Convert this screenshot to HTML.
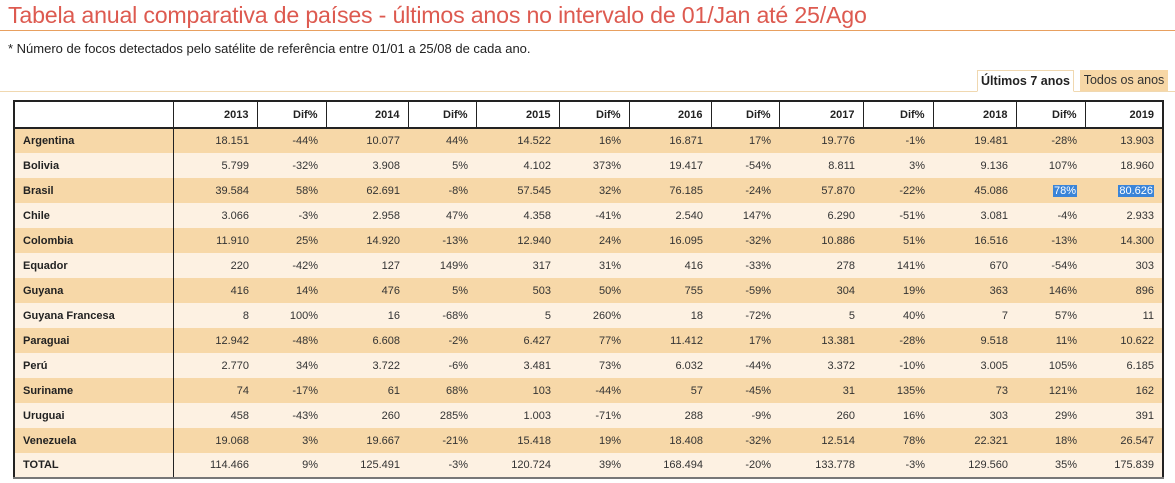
<!DOCTYPE html>
<html><head><meta charset="utf-8">
<style>
body{margin:0;width:1175px;height:483px;background:#fff;font-family:"Liberation Sans",sans-serif;position:relative;overflow:hidden}
#title{position:absolute;left:8px;top:2px;font-size:23.2px;color:#dd5a50;white-space:nowrap;letter-spacing:-0.2px}
#tline{position:absolute;left:0;top:30px;width:1175px;height:1px;background:#e8a060}
#sub{position:absolute;left:8px;top:41px;font-size:13px;color:#222;white-space:nowrap}
#tabline{position:absolute;left:0;top:91px;width:1175px;height:1px;background:#f0d8b0}
.tab{position:absolute;top:70px;height:21px;line-height:21px;font-size:12.5px;white-space:nowrap;box-sizing:border-box;text-align:center}
#t1{left:977px;width:97px;background:#fff;border:1px solid #f0d8b0;border-bottom:1px solid #fff;height:22px;font-weight:bold;color:#222}
#t2{left:1080px;width:88px;background:#f7d7a6;color:#333}
table{position:absolute;left:13px;top:100px;width:1149px;border-collapse:collapse;border:2px solid #222;border-bottom-color:#777;font-size:11px;table-layout:fixed}
td,th{height:25px;padding:0 8px;text-align:right;color:#333;font-weight:normal;box-sizing:border-box;white-space:nowrap}
th{font-weight:bold;color:#222;border-left:1px solid #222;border-bottom:2px solid #222;height:27px;background:#fff}
td.c{text-align:left;font-weight:bold;color:#222;border-right:1px solid #222}
tr.o td{background:#f7d8a8}
tr.e td{background:#fdf1e2}
.sel{background:#3a84d8;color:#fff;padding:0 1px}
</style></head><body>
<div id="title">Tabela anual comparativa de países - últimos anos no intervalo de 01/Jan até 25/Ago</div>
<div id="tline"></div>
<div id="sub">* Número de focos detectados pelo satélite de referência entre 01/01 a 25/08 de cada ano.</div>
<div id="tabline"></div>
<div class="tab" id="t1">Últimos 7 anos</div>
<div class="tab" id="t2">Todos os anos</div>
<table id="tbl">
<colgroup><col style="width:159px"><col style="width:84px"><col style="width:69px"><col style="width:82px"><col style="width:68px"><col style="width:83px"><col style="width:70px"><col style="width:82px"><col style="width:68px"><col style="width:84px"><col style="width:70px"><col style="width:83px"><col style="width:69px"><col style="width:78px"></colgroup>
<thead><tr id="hdr"></tr></thead><tbody id="body"></tbody></table>
<script>
const years=["2013","2014","2015","2016","2017","2018","2019"];
const countries=["Argentina","Bolivia","Brasil","Chile","Colombia","Equador","Guyana","Guyana Francesa","Paraguai","Perú","Suriname","Uruguai","Venezuela","TOTAL"];
const values=[
["18.151","10.077","14.522","16.871","19.776","19.481","13.903"],
["5.799","3.908","4.102","19.417","8.811","9.136","18.960"],
["39.584","62.691","57.545","76.185","57.870","45.086","80.626"],
["3.066","2.958","4.358","2.540","6.290","3.081","2.933"],
["11.910","14.920","12.940","16.095","10.886","16.516","14.300"],
["220","127","317","416","278","670","303"],
["416","476","503","755","304","363","896"],
["8","16","5","18","5","7","11"],
["12.942","6.608","6.427","11.412","13.381","9.518","10.622"],
["2.770","3.722","3.481","6.032","3.372","3.005","6.185"],
["74","61","103","57","31","73","162"],
["458","260","1.003","288","260","303","391"],
["19.068","19.667","15.418","18.408","12.514","22.321","26.547"],
["114.466","125.491","120.724","168.494","133.778","129.560","175.839"]];
const diffs=[
["-44%","44%","16%","17%","-1%","-28%"],
["-32%","5%","373%","-54%","3%","107%"],
["58%","-8%","32%","-24%","-22%","78%"],
["-3%","47%","-41%","147%","-51%","-4%"],
["25%","-13%","24%","-32%","51%","-13%"],
["-42%","149%","31%","-33%","141%","-54%"],
["14%","5%","50%","-59%","19%","146%"],
["100%","-68%","260%","-72%","40%","57%"],
["-48%","-2%","77%","17%","-28%","11%"],
["34%","-6%","73%","-44%","-10%","105%"],
["-17%","68%","-44%","-45%","135%","121%"],
["-43%","285%","-71%","-9%","16%","29%"],
["3%","-21%","19%","-32%","78%","18%"],
["9%","-3%","39%","-20%","-3%","35%"]];
const hdr=document.getElementById('hdr');
let th=document.createElement('th');th.style.borderLeft='none';


hdr.appendChild(th);
years.forEach((y,i)=>{
  let h=document.createElement('th');h.textContent=y;
  
  
  hdr.appendChild(h);
  if(i<years.length-1){let d=document.createElement('th');d.textContent='Dif%';
  
  
  hdr.appendChild(d);}
});
const body=document.getElementById('body');
countries.forEach((c,r)=>{
  const tr=document.createElement('tr');tr.className=(r%2===0&&r<13)?'o':'e';
  
  
  const tc=document.createElement('td');tc.className='c';tc.textContent=c;
  
  
  tr.appendChild(tc);
  years.forEach((y,i)=>{
    const v=document.createElement('td');
    
    
    if(r===2&&i===6)v.innerHTML='<span class="sel">'+values[r][i]+'</span>';else v.textContent=values[r][i];
    tr.appendChild(v);
    if(i<6){const d=document.createElement('td');
      
      
      if(r===2&&i===5)d.innerHTML='<span class="sel">'+diffs[r][i]+'</span>';else d.textContent=diffs[r][i];
      tr.appendChild(d);}
  });
  body.appendChild(tr);
});
</script>
</body></html>
